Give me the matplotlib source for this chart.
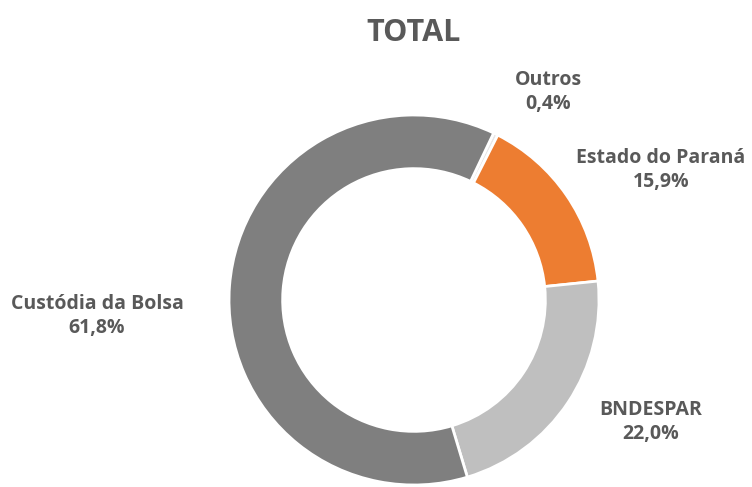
import matplotlib
matplotlib.use("Agg")
import matplotlib.pyplot as plt

labels = ["Outros", "Estado do Paraná", "BNDESPAR", "Custódia da Bolsa"]
values = [0.4, 15.9, 22.0, 61.8]
colors = ["#E7E6E6", "#ED7D31", "#BFBFBF", "#7F7F7F"]

# label centres in pixels (x, y from top)
label_pos = [(548, 92), (661, 170), (651, 422), (97, 316)]

W, H = 752, 487
cx, cy, r_out = 414, 300, 185

fig = plt.figure(figsize=(W / 100, H / 100), dpi=100)
ax = fig.add_axes([0, 0, 1, 1])

ax.pie(values, colors=colors, radius=r_out, startangle=64.5, counterclock=False,
       wedgeprops=dict(width=r_out * 0.29, edgecolor="white", linewidth=2))

ax.set_xlim(-cx, W - cx)
ax.set_ylim(-(H - cy), cy)
ax.set_aspect("equal")
ax.axis("off")

for lab, val, (px, py) in zip(labels, values, label_pos):
    txt = f"{lab}\n{val:.1f}%".replace(".", ",")
    ax.text(px - cx, cy - py, txt, ha="center", va="center", fontsize=14,
            fontweight="bold", color="#595959", linespacing=1.25,
            family="Open Sans")

fig.text(414 / W, 1 - 33 / H, "TOTAL", ha="center", va="center", fontsize=22,
         fontweight="bold", color="#595959", family="Open Sans")

fig.savefig("out.png", dpi=100)
